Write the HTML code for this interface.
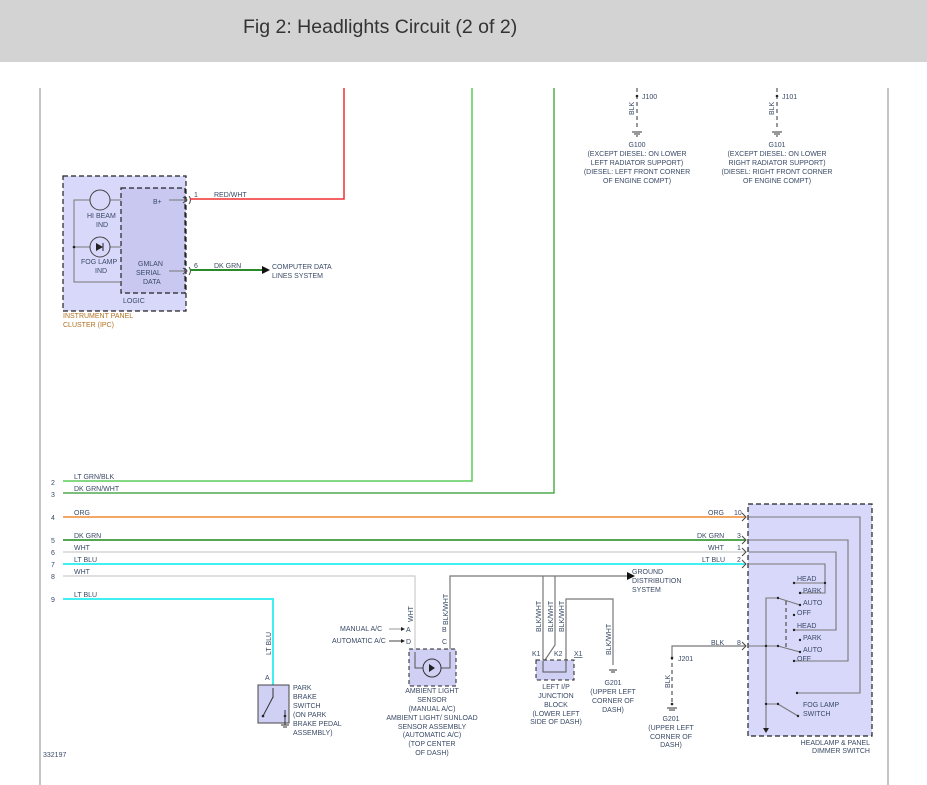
<!DOCTYPE html>
<html><head><meta charset="utf-8"><style>
html,body{margin:0;padding:0;background:#fff;width:927px;height:785px;overflow:hidden}
.hdr{position:absolute;left:0;top:0;width:927px;height:62px;background:#d3d3d3}
.hdr span{position:absolute;left:243px;top:16px;font:19.5px "Liberation Sans",sans-serif;color:#333;letter-spacing:0px}
svg{position:absolute;left:0;top:0}
text{font-family:"Liberation Sans",sans-serif;font-size:7px;fill:#3a4a66}
.o{fill:#b07020}
</style></head><body>
<div class="hdr"><span>Fig 2: Headlights Circuit (2 of 2)</span></div>
<svg width="927" height="785" viewBox="0 0 927 785">
<line x1="40" y1="88" x2="40" y2="785" stroke="#888" stroke-width="1"/>
<line x1="888" y1="88" x2="888" y2="785" stroke="#888" stroke-width="1"/>

<!-- IPC box -->
<rect x="63" y="176" width="123" height="135" fill="#d8d8fa" stroke="#222" stroke-dasharray="5,3" stroke-width="1.2"/>
<rect x="121" y="188" width="64" height="105" fill="#c8c8f0" stroke="#222" stroke-dasharray="5,3" stroke-width="1.2"/>
<polyline points="121,200 74,200 74,282 121,282" fill="none" stroke="#777"/>
<line x1="74" y1="247" x2="121" y2="247" stroke="#777"/>
<circle cx="74" cy="247" r="1.3" fill="#222"/>
<circle cx="100" cy="200" r="10" fill="#d8d8fa" stroke="#444"/>
<circle cx="100" cy="247" r="10" fill="#d8d8fa" stroke="#444"/>
<path d="M96,243 L96,251 L103,247 Z" fill="#222"/><line x1="103" y1="243" x2="103" y2="251" stroke="#222"/>
<text x="87" y="218">HI BEAM</text><text x="96" y="227">IND</text>
<text x="81" y="264">FOG LAMP</text><text x="95" y="273">IND</text>
<text x="138" y="266">GMLAN</text><text x="136" y="275">SERIAL</text><text x="143" y="284">DATA</text>
<text x="153" y="204">B+</text>
<text x="123" y="303">LOGIC</text>
<text x="63" y="318" class="o">INSTRUMENT PANEL</text><text x="63" y="327" class="o">CLUSTER (IPC)</text>
<line x1="169" y1="200" x2="186" y2="200" stroke="#777"/>
<line x1="169" y1="271" x2="186" y2="271" stroke="#777"/>
<path d="M183,197 L187,200 L183,203 M189,196 Q192,200 189,204 M183,268 L187,271 L183,274 M189,267 Q192,271 189,275" fill="none" stroke="#444"/>
<polyline points="190,199 344,199 344,88" fill="none" stroke="#f03030" stroke-width="1.5"/>
<text x="194" y="197">1</text><text x="214" y="197">RED/WHT</text>
<line x1="190" y1="270" x2="262" y2="270" stroke="#2a8a2a" stroke-width="2"/>
<path d="M262,266 L270,270 L262,274 Z" fill="#111"/>
<text x="194" y="268">6</text><text x="214" y="268">DK GRN</text>
<text x="272" y="269">COMPUTER DATA</text><text x="272" y="278">LINES SYSTEM</text>

<polyline points="472,88 472,481 63,481" fill="none" stroke="#5ccc5c" stroke-width="1.5"/>
<polyline points="554,88 554,493 63,493" fill="none" stroke="#2a9a2a" stroke-width="1.2"/>

<line x1="63" y1="517" x2="745" y2="517" stroke="#f08a30" stroke-width="1.5"/>
<line x1="63" y1="540" x2="745" y2="540" stroke="#1a8a1a" stroke-width="1.5"/>
<line x1="63" y1="552" x2="745" y2="552" stroke="#ccc" stroke-width="1.2"/>
<line x1="63" y1="564" x2="745" y2="564" stroke="#40f0f0" stroke-width="2"/>
<polyline points="63,576 415,576 415,652" fill="none" stroke="#ccc" stroke-width="1.2"/>
<polyline points="63,599 273,599 273,685" fill="none" stroke="#40f0f0" stroke-width="2"/>
<g>
<text x="51" y="485">2</text><text x="51" y="497">3</text><text x="51" y="520">4</text><text x="51" y="543">5</text><text x="51" y="555">6</text><text x="51" y="567">7</text><text x="51" y="579">8</text><text x="51" y="602">9</text>
<text x="74" y="479">LT GRN/BLK</text><text x="74" y="491">DK GRN/WHT</text><text x="74" y="515">ORG</text><text x="74" y="538">DK GRN</text><text x="74" y="550">WHT</text><text x="74" y="562">LT BLU</text><text x="74" y="574">WHT</text><text x="74" y="597">LT BLU</text>
<text x="708" y="515">ORG</text><text x="697" y="538">DK GRN</text><text x="708" y="550">WHT</text><text x="702" y="562">LT BLU</text>
<text x="734" y="515">10</text><text x="737" y="538">3</text><text x="737" y="550">1</text><text x="737" y="562">2</text><text x="737" y="645">8</text>
<text x="711" y="645">BLK</text>
</g>

<g stroke="#333" stroke-dasharray="4,3" fill="none"><line x1="637" y1="88" x2="637" y2="130"/><line x1="777" y1="88" x2="777" y2="130"/></g>
<circle cx="637" cy="96" r="1.3" fill="#222"/><circle cx="777" cy="96" r="1.3" fill="#222"/>
<text x="642" y="99">J100</text><text x="782" y="99">J101</text>
<text transform="translate(634,115) rotate(-90)">BLK</text><text transform="translate(774,115) rotate(-90)">BLK</text>
<g stroke="#333"><line x1="632" y1="132" x2="642" y2="132"/><line x1="634" y1="134" x2="640" y2="134"/><line x1="636" y1="136" x2="638" y2="136"/>
<line x1="772" y1="132" x2="782" y2="132"/><line x1="774" y1="134" x2="780" y2="134"/><line x1="776" y1="136" x2="778" y2="136"/></g>
<g text-anchor="middle">
<text x="637" y="147">G100</text><text x="637" y="156">(EXCEPT DIESEL: ON LOWER</text><text x="637" y="165">LEFT RADIATOR SUPPORT)</text><text x="637" y="174">(DIESEL: LEFT FRONT CORNER</text><text x="637" y="183">OF ENGINE COMPT)</text>
<text x="777" y="147">G101</text><text x="777" y="156">(EXCEPT DIESEL: ON LOWER</text><text x="777" y="165">RIGHT RADIATOR SUPPORT)</text><text x="777" y="174">(DIESEL: RIGHT FRONT CORNER</text><text x="777" y="183">OF ENGINE COMPT)</text>
</g>

<rect x="258" y="685" width="31" height="38" fill="#d0d0f4" stroke="#444"/>
<text x="265" y="680">A</text>
<text transform="translate(271,655) rotate(-90)">LT BLU</text>
<line x1="273" y1="688" x2="273" y2="698" stroke="#333"/>
<line x1="273" y1="697" x2="263" y2="716" stroke="#333"/>
<circle cx="263" cy="716" r="1.3" fill="#222"/><circle cx="285" cy="716" r="1.3" fill="#222"/>
<line x1="285" y1="710" x2="285" y2="725" stroke="#333"/>
<line x1="281" y1="725" x2="289" y2="725" stroke="#333"/><line x1="283" y1="727" x2="287" y2="727" stroke="#333"/>
<text x="293" y="690">PARK</text><text x="293" y="699">BRAKE</text><text x="293" y="708">SWITCH</text><text x="293" y="717">(ON PARK</text><text x="293" y="726">BRAKE PEDAL</text><text x="293" y="735">ASSEMBLY)</text>
<text x="43" y="757">332197</text>

<text x="340" y="631">MANUAL A/C</text><text x="332" y="643">AUTOMATIC A/C</text>
<line x1="389" y1="629" x2="403" y2="629" stroke="#999"/><path d="M401,627 L405,629 L401,631Z" fill="#222"/>
<line x1="389" y1="641" x2="403" y2="641" stroke="#444"/><path d="M401,639 L405,641 L401,643Z" fill="#222"/>
<text x="406" y="632">A</text><text x="406" y="644">D</text>
<text transform="translate(413,622) rotate(-90)">WHT</text>
<text transform="translate(448,625) rotate(-90)">BLK/WHT</text>
<text x="442" y="632">B</text><text x="442" y="644">C</text>
<polyline points="450,652 450,576 627,576" fill="none" stroke="#777" stroke-width="1.2"/>
<path d="M627,572 L635,576 L627,580Z" fill="#111"/>
<text x="632" y="574">GROUND</text><text x="632" y="583">DISTRIBUTION</text><text x="632" y="592">SYSTEM</text>
<rect x="409" y="649" width="47" height="37" fill="#d0d0f4" stroke="#222" stroke-dasharray="4,3"/>
<polyline points="415,652 415,668 450,668 450,652" fill="none" stroke="#555"/>
<circle cx="432" cy="668" r="9" fill="#d0d0f4" stroke="#333"/>
<path d="M429,664 L429,672 L435,668Z" fill="#222"/>
<g text-anchor="middle"><text x="432" y="693">AMBIENT LIGHT</text><text x="432" y="702">SENSOR</text><text x="432" y="711">(MANUAL A/C)</text><text x="432" y="720">AMBIENT LIGHT/ SUNLOAD</text><text x="432" y="729">SENSOR ASSEMBLY</text><text x="432" y="737">(AUTOMATIC A/C)</text><text x="432" y="746">(TOP CENTER</text><text x="432" y="755">OF DASH)</text></g>

<polyline points="543,660 543,576" fill="none" stroke="#777" stroke-width="1.2"/>
<polyline points="545,660 555,645 555,576" fill="none" stroke="#777" stroke-width="1.2"/>
<polyline points="566,660 566,599 613,599 613,665" fill="none" stroke="#777" stroke-width="1.2"/>
<text transform="translate(541,632) rotate(-90)">BLK/WHT</text>
<text transform="translate(553,632) rotate(-90)">BLK/WHT</text>
<text transform="translate(564,632) rotate(-90)">BLK/WHT</text>
<text transform="translate(611,655) rotate(-90)">BLK/WHT</text>
<text x="532" y="656">K1</text><text x="554" y="656">K2</text><text x="574" y="656" text-decoration="underline">X1</text>
<rect x="536" y="660" width="38" height="20" fill="#d0d0f4" stroke="#222" stroke-dasharray="4,3"/>
<polyline points="543,661 543,672 566,672 566,661" fill="none" stroke="#555"/>
<g stroke="#333"><line x1="609" y1="670" x2="617" y2="670"/><line x1="611" y1="672" x2="615" y2="672"/></g>
<g text-anchor="middle"><text x="556" y="689">LEFT I/P</text><text x="556" y="698">JUNCTION</text><text x="556" y="707">BLOCK</text><text x="556" y="716">(LOWER LEFT</text><text x="556" y="724">SIDE OF DASH)</text>
<text x="613" y="685">G201</text><text x="613" y="694">(UPPER LEFT</text><text x="613" y="703">CORNER OF</text><text x="613" y="712">DASH)</text>
<text x="671" y="721">G201</text><text x="671" y="730">(UPPER LEFT</text><text x="671" y="739">CORNER OF</text><text x="671" y="747">DASH)</text></g>

<polyline points="745,646 672,646 672,656" fill="none" stroke="#777" stroke-width="1.2"/>
<line x1="672" y1="656" x2="672" y2="705" stroke="#333" stroke-dasharray="4,3"/>
<circle cx="672" cy="658" r="1.3" fill="#222"/><circle cx="672" cy="704" r="1.3" fill="#222"/>
<text x="678" y="661">J201</text>
<text transform="translate(670,688) rotate(-90)">BLK</text>
<g stroke="#333"><line x1="667" y1="708" x2="677" y2="708"/><line x1="669" y1="710" x2="675" y2="710"/></g>

<rect x="748" y="504" width="124" height="232" fill="#d8d8fa" stroke="#222" stroke-dasharray="5,3" stroke-width="1.2"/>
<g fill="none" stroke="#444">
<path d="M742,513 L746,517 L742,521 M742,536 L746,540 L742,544 M742,548 L746,552 L742,556 M742,560 L746,564 L742,568 M742,642 L746,646 L742,650"/>
</g>
<g fill="none" stroke="#777" stroke-width="1.1">
<polyline points="749,517 860,517 860,693 797,693"/>
<polyline points="749,540 848,540 848,661 794,661"/>
<polyline points="749,552 836,552 836,630 794,630"/>
<polyline points="749,564 825,564 825,593 800,593"/>
<line x1="794" y1="583" x2="825" y2="583"/>
<polyline points="766,729 766,598 778,598 800,605"/>
<polyline points="749,646 778,646 800,652"/>
<polyline points="766,704 778,704 798,716"/>
</g>
<line x1="786" y1="601" x2="786" y2="648" stroke="#333" stroke-dasharray="4,3"/>
<path d="M763,728 L766,733 L769,728Z" fill="#222"/>
<g fill="#222"><circle cx="794" cy="583" r="1.2"/><circle cx="800" cy="593" r="1.2"/><circle cx="800" cy="605" r="1.2"/><circle cx="794" cy="615" r="1.2"/><circle cx="794" cy="630" r="1.2"/><circle cx="800" cy="640" r="1.2"/><circle cx="800" cy="652" r="1.2"/><circle cx="794" cy="661" r="1.2"/><circle cx="797" cy="693" r="1.2"/><circle cx="798" cy="716" r="1.2"/><circle cx="766" cy="646" r="1.2"/><circle cx="766" cy="704" r="1.2"/><circle cx="778" cy="598" r="1.2"/><circle cx="778" cy="646" r="1.2"/><circle cx="778" cy="704" r="1.2"/><circle cx="825" cy="583" r="1.2"/></g>
<text x="797" y="581">HEAD</text><text x="803" y="593">PARK</text><text x="803" y="605">AUTO</text><text x="797" y="615">OFF</text>
<text x="797" y="628">HEAD</text><text x="803" y="640">PARK</text><text x="803" y="652">AUTO</text><text x="797" y="661">OFF</text>
<text x="803" y="707">FOG LAMP</text><text x="803" y="716">SWITCH</text>
<text x="870" y="745" text-anchor="end">HEADLAMP &amp; PANEL</text><text x="870" y="753" text-anchor="end">DIMMER SWITCH</text>
</svg>
</body></html>
